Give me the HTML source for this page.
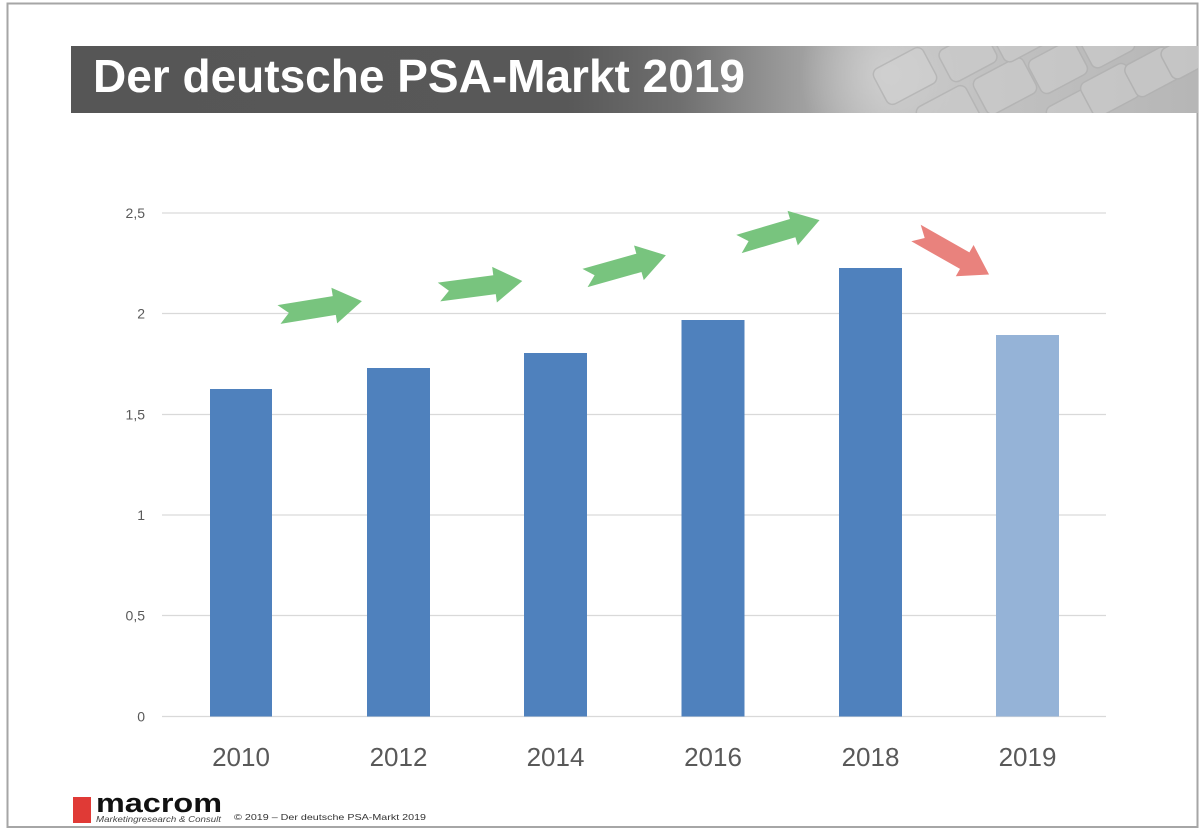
<!DOCTYPE html>
<html>
<head>
<meta charset="utf-8">
<style>
  html, body { margin: 0; padding: 0; background: #ffffff; }
  body { width: 1200px; height: 831px; overflow: hidden; }
  svg { display: block; }
</style>
</head>
<body>
<svg width="1200" height="831" viewBox="0 0 1200 831" xmlns="http://www.w3.org/2000/svg">
  <defs>
    <linearGradient id="bannerGrad" x1="71" y1="0" x2="1198" y2="0" gradientUnits="userSpaceOnUse">
      <stop offset="0" stop-color="#565656"/>
      <stop offset="0.44" stop-color="#585858"/>
      <stop offset="0.54" stop-color="#6f6f6f"/>
      <stop offset="0.64" stop-color="#9c9c9c"/>
      <stop offset="0.72" stop-color="#bababa"/>
      <stop offset="0.80" stop-color="#c2c2c2"/>
      <stop offset="1" stop-color="#b6b6b6"/>
    </linearGradient>
    <radialGradient id="glow" cx="890" cy="75" r="90" gradientUnits="userSpaceOnUse">
      <stop offset="0" stop-color="#d4d4d4" stop-opacity="0.8"/>
      <stop offset="1" stop-color="#d4d4d4" stop-opacity="0"/>
    </radialGradient>
    <clipPath id="bannerClip">
      <rect x="71" y="46" width="1127" height="67"/>
    </clipPath>
  </defs>

  <!-- page frame -->
  <rect x="0" y="0" width="1200" height="831" fill="#ffffff"/>
  <rect x="7.5" y="3.5" width="1190" height="823.5" fill="#ffffff" stroke="#a6a6a6" stroke-width="2"/>

  <!-- title banner -->
  <rect x="71" y="46" width="1127" height="67" fill="url(#bannerGrad)"/>
  <g clip-path="url(#bannerClip)">
    <rect x="780" y="30" width="260" height="100" fill="url(#glow)"/>
    <g fill="#cbcbcb" stroke="#b0b0b0" stroke-width="1.5" opacity="0.7">
      <rect x="-28" y="-20" width="56" height="40" rx="7" transform="translate(905 76) rotate(-28)" fill="#d0d0d0"/>
      <rect x="-26" y="-18" width="52" height="36" rx="7" transform="translate(968 56) rotate(-28)"/>
      <rect x="-28" y="-20" width="56" height="40" rx="7" transform="translate(1005 86) rotate(-28)"/>
      <rect x="-26" y="-19" width="52" height="38" rx="7" transform="translate(1058 67) rotate(-28)"/>
      <rect x="-28" y="-20" width="56" height="40" rx="7" transform="translate(948 114) rotate(-28)"/>
      <rect x="-28" y="-20" width="56" height="40" rx="7" transform="translate(1078 114) rotate(-28)"/>
      <rect x="-26" y="-19" width="52" height="38" rx="7" transform="translate(1110 90) rotate(-28)"/>
      <rect x="-24" y="-18" width="48" height="36" rx="7" transform="translate(1152 72) rotate(-28)"/>
      <rect x="-24" y="-17" width="48" height="34" rx="7" transform="translate(1108 44) rotate(-28)"/>
      <rect x="-22" y="-17" width="44" height="34" rx="7" transform="translate(1186 56) rotate(-28)"/>
      <rect x="-24" y="-17" width="48" height="34" rx="7" transform="translate(1020 38) rotate(-28)"/>
    </g>
  </g>
  <text x="93" y="92" font-family="Liberation Sans, sans-serif" font-weight="bold" font-size="46" fill="#ffffff" textLength="652" lengthAdjust="spacingAndGlyphs">Der deutsche PSA-Markt 2019</text>

  <!-- gridlines -->
  <g stroke="#d9d9d9" stroke-width="1.3">
    <line x1="162" y1="213" x2="1106" y2="213"/>
    <line x1="162" y1="313.5" x2="1106" y2="313.5"/>
    <line x1="162" y1="414.5" x2="1106" y2="414.5"/>
    <line x1="162" y1="515" x2="1106" y2="515"/>
    <line x1="162" y1="615.5" x2="1106" y2="615.5"/>
    <line x1="162" y1="716.5" x2="1106" y2="716.5"/>
  </g>

  <!-- y-axis labels -->
  <g font-family="Liberation Sans, sans-serif" font-size="14" fill="#595959" text-anchor="end">
    <text x="145" y="218">2,5</text>
    <text x="145" y="318.5">2</text>
    <text x="145" y="419.5">1,5</text>
    <text x="145" y="520">1</text>
    <text x="145" y="620.5">0,5</text>
    <text x="145" y="721.5">0</text>
  </g>

  <!-- bars -->
  <g fill="#4f81bd">
    <rect x="210" y="389" width="62" height="327.5"/>
    <rect x="367" y="368" width="63" height="348.5"/>
    <rect x="524" y="353" width="63" height="363.5"/>
    <rect x="681.5" y="320" width="63" height="396.5"/>
    <rect x="839" y="268" width="63" height="448.5"/>
  </g>
  <rect x="996" y="335" width="63" height="381.5" fill="#95b3d7"/>

  <!-- x-axis labels -->
  <g font-family="Liberation Sans, sans-serif" font-size="26" fill="#595959" text-anchor="middle">
    <text x="241" y="766">2010</text>
    <text x="398.5" y="766">2012</text>
    <text x="555.5" y="766">2014</text>
    <text x="713" y="766">2016</text>
    <text x="870.5" y="766">2018</text>
    <text x="1027.5" y="766">2019</text>
  </g>

  <!-- arrows -->
  <g fill="#78c47e">
    <polygon points="0,-9.5 56,-9.5 56,-18 84,0 56,18 56,9.5 0,9.5 10,0" transform="translate(279 314.5) rotate(-9.2)"/>
    <polygon points="0,-9.5 56,-9.5 56,-18 84,0 56,18 56,9.5 0,9.5 10,0" transform="translate(439 292) rotate(-7.5)"/>
    <polygon points="0,-9.5 56,-9.5 56,-18 84,0 56,18 56,9.5 0,9.5 10,0" transform="translate(585 278) rotate(-15.7)"/>
    <polygon points="0,-9.5 56,-9.5 56,-18 84,0 56,18 56,9.5 0,9.5 10,0" transform="translate(739 244) rotate(-16.5)"/>
  </g>
  <polygon fill="#e9827d" points="0,-9.5 56,-9.5 56,-18 84,0 56,18 56,9.5 0,9.5 10,0" transform="translate(916 233) rotate(29.6)"/>

  <!-- footer -->
  <rect x="73" y="797" width="18" height="26" fill="#e03a36"/>
  <text x="96" y="812" font-family="Liberation Sans, sans-serif" font-weight="bold" font-size="27" fill="#111111" textLength="126" lengthAdjust="spacingAndGlyphs">macrom</text>
  <text x="96" y="822" font-family="Liberation Sans, sans-serif" font-style="italic" font-size="8.5" fill="#444444" textLength="125" lengthAdjust="spacingAndGlyphs">Marketingresearch &amp; Consult</text>
  <text x="234" y="820" font-family="Liberation Sans, sans-serif" font-size="8.5" fill="#333333" textLength="192" lengthAdjust="spacingAndGlyphs">© 2019 – Der deutsche PSA-Markt 2019</text>
</svg>
</body>
</html>
